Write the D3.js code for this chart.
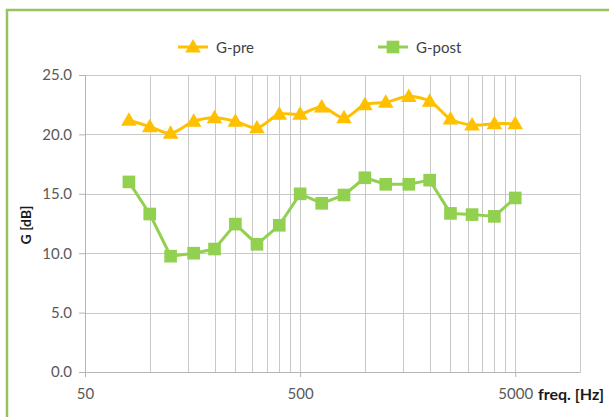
<!DOCTYPE html>
<html>
<head>
<meta charset="utf-8">
<script src="https://cdn.jsdelivr.net/npm/d3@7"></script>
<style>
  html, body { margin: 0; padding: 0; background: #fff; }
  svg { display: block; }
  text { font-family: Lato, "Open Sans", sans-serif; }
</style>
</head>
<body>
<svg id="chart" width="609" height="417"></svg>
<script>
// One-third-octave band centre frequencies (Hz)
const freqs = [80, 100, 125, 160, 200, 250, 315, 400, 500, 630, 800, 1000, 1250, 1600, 2000, 2500, 3150, 4000, 5000];
// Strength G before and after treatment (dB)
const gPre  = [21.2, 20.65, 20.1, 21.1, 21.4, 21.1, 20.55, 21.7, 21.7, 22.3, 21.4, 22.5, 22.7, 23.2, 22.8, 21.3, 20.8, 20.9, 20.9];
const gPost = [16.0, 13.3, 9.75, 10.0, 10.35, 12.45, 10.75, 12.35, 15.0, 14.2, 14.9, 16.35, 15.8, 15.8, 16.15, 13.35, 13.25, 13.1, 14.65];
const seriesNames = ["G-pre", "G-post"];
const yTicks = [0, 5, 10, 15, 20, 25];
const xTickLabels = [50, 500, 5000];
const xDomain = [50, 10000];

const preColor = "#FFC000";
const postColor = "#92D050";

const svg = d3.select("#chart");
const m = { left: 85, right: 580, top: 75, bottom: 372 };

const x = d3.scaleLog().domain(xDomain).range([m.left, m.right]);
const y = d3.scaleLinear().domain([0, 25]).range([m.bottom, m.top]);

// outer chart frame
svg.append("rect")
  .attr("x", 7).attr("y", 10).attr("width", 640).attr("height", 440)
  .attr("fill", "none").attr("stroke", "#97C35E").attr("stroke-width", 2.5);

// minor log gridlines: 2..9 times each decade start
const gridFreqs = [];
xTickLabels.forEach(base => {
  for (let k = 1; k <= 9; k++) {
    const f = base * k;
    if (f > xDomain[0] && f <= xDomain[1]) gridFreqs.push(f);
  }
});

const grid = svg.append("g").attr("stroke", "#C8C8C8").attr("stroke-width", 1).attr("shape-rendering", "crispEdges");
grid.selectAll("line.v").data(gridFreqs).join("line")
  .attr("class", "v")
  .attr("x1", d => Math.round(x(d)) + 0.5).attr("x2", d => Math.round(x(d)) + 0.5)
  .attr("y1", m.top).attr("y2", m.bottom);
grid.selectAll("line.h").data(yTicks.filter(d => d > 0)).join("line")
  .attr("class", "h")
  .attr("x1", m.left).attr("x2", m.right)
  .attr("y1", d => Math.round(y(d)) + 0.5).attr("y2", d => Math.round(y(d)) + 0.5);

// y axis
const yAxis = svg.append("g")
  .attr("transform", `translate(${m.left},0)`)
  .call(d3.axisLeft(y).tickValues(yTicks).tickFormat(d3.format(".1f")).tickSize(6).tickPadding(7));
yAxis.select(".domain").attr("stroke", "#B5B5B5");
yAxis.selectAll(".tick line").attr("stroke", "#B5B5B5");
yAxis.selectAll("text").attr("fill", "#595959").style("font-size", "15px");

// x axis
const xAxis = svg.append("g")
  .attr("transform", `translate(0,${m.bottom})`)
  .call(d3.axisBottom(x).tickValues(xTickLabels).tickFormat(d3.format("d")).tickSize(5).tickSizeOuter(0).tickPadding(11));
xAxis.select(".domain").attr("stroke", "#B5B5B5");
xAxis.selectAll(".tick line").attr("stroke", "#B5B5B5");
xAxis.selectAll("text").attr("fill", "#595959").style("font-size", "15px");

// axis titles
svg.append("text")
  .attr("transform", "translate(31,225) rotate(-90)")
  .attr("text-anchor", "middle")
  .attr("fill", "#1a1a1a").attr("font-weight", "bold").style("font-size", "14px")
  .text("G [dB]");
svg.append("text")
  .attr("x", 538).attr("y", 399.5)
  .attr("fill", "#1a1a1a").attr("font-weight", "bold").style("font-size", "16px")
  .text("freq. [Hz]");

// series
const tri = d3.symbol().type(d3.symbolTriangle).size(105);
const sq = d3.symbol().type(d3.symbolSquare).size(160);

const preLine = d3.line().x((d, i) => x(freqs[i])).y(d => y(d)).curve(d3.curveCatmullRom.alpha(0.5));
const postLine = d3.line().x((d, i) => x(freqs[i])).y(d => y(d));

svg.append("path").datum(gPre).attr("d", preLine)
  .attr("fill", "none").attr("stroke", preColor).attr("stroke-width", 3).attr("stroke-linejoin", "round");
svg.append("g").selectAll("path").data(gPre).join("path")
  .attr("transform", (d, i) => `translate(${x(freqs[i])},${y(d) + 1})`)
  .attr("d", tri).attr("fill", preColor);

svg.append("path").datum(gPost).attr("d", postLine)
  .attr("fill", "none").attr("stroke", postColor).attr("stroke-width", 3).attr("stroke-linejoin", "round");
svg.append("g").selectAll("path").data(gPost).join("path")
  .attr("transform", (d, i) => `translate(${x(freqs[i])},${y(d)})`)
  .attr("d", sq).attr("fill", postColor);

// legend
const legendX = [178, 378];
const legendSym = [tri, sq];
const legendCol = [preColor, postColor];
seriesNames.forEach((name, i) => {
  const g = svg.append("g").attr("transform", `translate(${legendX[i]},47)`);
  g.append("line").attr("x1", 0).attr("x2", 30).attr("y1", 0).attr("y2", 0)
    .attr("stroke", legendCol[i]).attr("stroke-width", 3);
  g.append("path").attr("transform", `translate(15,${i === 0 ? 1 : 0})`).attr("d", legendSym[i]).attr("fill", legendCol[i]);
  g.append("text").attr("x", 38).attr("y", 5.5).attr("fill", "#404040").style("font-size", "15px").text(name);
});
</script>
</body>
</html>
